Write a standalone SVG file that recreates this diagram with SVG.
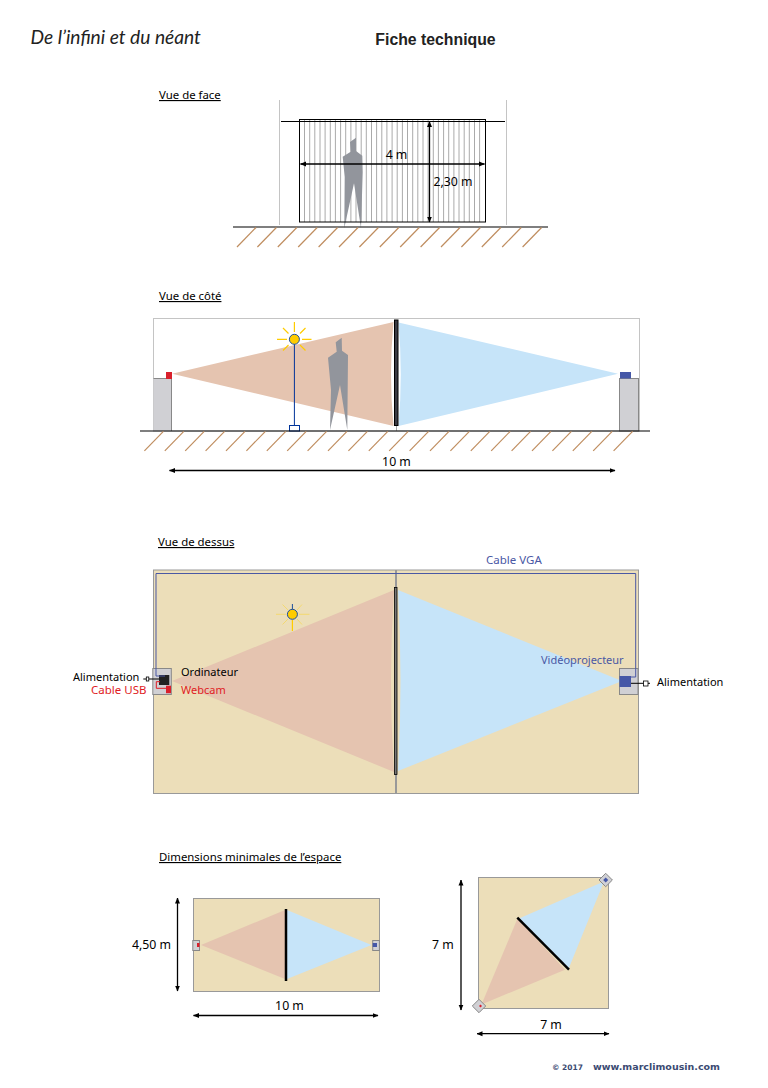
<svg xmlns="http://www.w3.org/2000/svg" xmlns:xlink="http://www.w3.org/1999/xlink" width="768" height="1088" viewBox="0 0 768 1088">
<style>
text{font-family:"Noto Sans","DejaVu Sans",sans-serif;font-size:11px;fill:#000}
.sec{font-size:11.4px;text-decoration:underline}
.d{font-size:12.3px}
.w{font-size:11.5px}
.mid{text-anchor:middle}
.dim{fill:none;stroke:#000;stroke-width:1.3;marker-start:url(#a);marker-end:url(#a)}
.ln{fill:none;stroke:#000;stroke-width:1}
.hatch{stroke:#bf8d5f;stroke-width:1.2;fill:none}
.grey{stroke:#c4c4c4;stroke-width:1;fill:none}
.peach{fill:#e5c4b0}
.blue{fill:#c6e4f9}
.floor{fill:#ecdeb9;stroke:#999;stroke-width:1}
.box{fill:#d0d0d4;stroke:#888;stroke-width:1}
.man{fill:#92959c}
.ray{stroke:#ffcc00;stroke-width:1.2;fill:none}
.ray2{stroke:#f5d860;stroke-width:.8;fill:none}
.bulb{fill:#ffcc00;stroke:#1d4f9c;stroke-width:1}
.vga{fill:none;stroke:#4a58a4;stroke-width:1}
.usb{fill:none;stroke:#e01b24;stroke-width:1}
.red{fill:#d9202c}
.prj{fill:#4557a7}
.bluet{fill:#4a58a4}
.redt{fill:#e01b24}
</style>
<defs>
<marker id="a" viewBox="0 0 6 6" refX="5.5" refY="3" markerWidth="6" markerHeight="6" markerUnits="userSpaceOnUse" orient="auto-start-reverse"><path d="M0,0.5L6,3L0,5.5Z" fill="#000"/></marker>
<path id="h" d="M0,19.5L19,0" class="hatch"/>
</defs>
<rect width="768" height="1088" fill="#fff"/>

<g id="header">
<text x="30.500" y="43.500" style="font-family:Lato,sans-serif;font-style:italic;font-size:19.2px;fill:#222">De l’infini et du néant</text>
<text x="435.500" y="45" class="mid" style="font-family:'Liberation Sans',sans-serif;font-weight:bold;font-size:15.800px;fill:#222">Fiche technique</text>
</g>

<g id="vue-face">
<text x="159" y="99" class="sec">Vue de face</text>
<path class="grey" d="M279.500,100V225M506.500,100V225"/>
<path stroke="#aaa" stroke-width="1" fill="none" d="M304.500,120V222M309.700,120V222M314.800,120V222M320,120V222M325.100,120V222M330.300,120V222M335.400,120V222M340.600,120V222M345.700,120V222M350.900,120V222M356,120V222M361.200,120V222M366.300,120V222M371.500,120V222M376.600,120V222M381.800,120V222M386.900,120V222M392.100,120V222M397.200,120V222M402.400,120V222M407.500,120V222M412.700,120V222M417.800,120V222M423,120V222M428.100,120V222M433.300,120V222M438.400,120V222M443.600,120V222M448.700,120V222M453.900,120V222M459,120V222M464.200,120V222M469.300,120V222M474.500,120V222M479.600,120V222"/>
<path class="man" d="M356,137.700L350,142L350.700,151.700L342.700,156.700L344.700,177L344.300,228L354,183.300L361,228L362.700,172L362.300,155.700L356,151Z"/>
<rect x="299.500" y="119.500" width="186" height="102.500" class="ln"/>
<path class="ln" d="M281,121.500H505"/>
<text x="396.500" y="159" class="mid d">4 m</text>
<text x="433.500" y="186" class="d">2,30 m</text>
</g>

<g id="sol-face">
<path d="M233,227H548" stroke="#000" stroke-width="1.2" fill="none"/>
<use xlink:href="#h" x="237" y="227.500"/><use xlink:href="#h" x="257.400" y="227.500"/><use xlink:href="#h" x="277.800" y="227.500"/><use xlink:href="#h" x="298.200" y="227.500"/><use xlink:href="#h" x="318.600" y="227.500"/><use xlink:href="#h" x="339" y="227.500"/><use xlink:href="#h" x="359.400" y="227.500"/><use xlink:href="#h" x="379.800" y="227.500"/><use xlink:href="#h" x="400.200" y="227.500"/><use xlink:href="#h" x="420.600" y="227.500"/><use xlink:href="#h" x="441" y="227.500"/><use xlink:href="#h" x="461.400" y="227.500"/><use xlink:href="#h" x="481.800" y="227.500"/><use xlink:href="#h" x="502.200" y="227.500"/><use xlink:href="#h" x="522.600" y="227.500"/>
</g>

<g id="vue-cote">
<text x="159" y="300" class="sec">Vue de côté</text>
<rect x="153.500" y="318.500" width="486" height="112.500" class="grey"/>
<path class="peach" d="M172,373.700L393.500,322Q388.500,374 393.500,426Z"/>
<path class="blue" d="M618,373.700L398.500,322.500Q403,374 398.500,426Z"/>
<path class="man" d="M341.700,337.700L335.700,342.300L336.700,351.700L328,357.700L331,390L330,430L340,385L347.300,430L348,355L342,350.700Z"/>
<path d="M396.500,425V431" stroke="#aaa" stroke-width="1"/>
<rect x="394.500" y="320" width="3.500" height="105.500" fill="#3a3a42" stroke="#000" stroke-width="1"/>
</g>

<g id="support-webcam-cote">
<path d="M153.500,431V378.500H171.500V431Z" fill="#d0d0d4"/>
<path d="M153.500,378.500H171.500V431" fill="none" stroke="#888" stroke-width="1"/>
<rect x="166" y="372" width="6" height="7" class="red"/>
</g>
<g id="support-projecteur-cote">
<rect x="619.500" y="378.500" width="19" height="52.500" class="box"/>
<rect x="620" y="372" width="11" height="6.500" class="prj"/>
</g>
<g id="lampe-cote">
<path class="ray" d="M277,339.300H287M302,339.300H311.500M294.400,322V332M283,328L288.500,333.500M305.500,328L300,333.500M283,350.500L288.500,345M305.500,350.500L300,345"/>
<path d="M294.400,339V425" stroke="#003399" stroke-width="1" fill="none"/>
<rect x="289.500" y="425.500" width="10" height="5.500" fill="#fff" stroke="#003399" stroke-width="1"/>
<circle cx="294.400" cy="339.300" r="5" class="bulb"/>
</g>

<g id="sol-cote">
<path d="M140,431H650" stroke="#000" stroke-width="1.2" fill="none"/>
<use xlink:href="#h" x="144.400" y="431.300"/><use xlink:href="#h" x="164.800" y="431.300"/><use xlink:href="#h" x="185.200" y="431.300"/><use xlink:href="#h" x="205.600" y="431.300"/><use xlink:href="#h" x="226" y="431.300"/><use xlink:href="#h" x="246.400" y="431.300"/><use xlink:href="#h" x="266.800" y="431.300"/><use xlink:href="#h" x="287.200" y="431.300"/><use xlink:href="#h" x="307.600" y="431.300"/><use xlink:href="#h" x="328" y="431.300"/><use xlink:href="#h" x="348.400" y="431.300"/><use xlink:href="#h" x="368.800" y="431.300"/><use xlink:href="#h" x="389.200" y="431.300"/><use xlink:href="#h" x="409.600" y="431.300"/><use xlink:href="#h" x="430" y="431.300"/><use xlink:href="#h" x="450.400" y="431.300"/><use xlink:href="#h" x="470.800" y="431.300"/><use xlink:href="#h" x="491.200" y="431.300"/><use xlink:href="#h" x="511.600" y="431.300"/><use xlink:href="#h" x="532" y="431.300"/><use xlink:href="#h" x="552.400" y="431.300"/><use xlink:href="#h" x="572.800" y="431.300"/><use xlink:href="#h" x="593.200" y="431.300"/><use xlink:href="#h" x="613.600" y="431.300"/>
<text x="396.500" y="466" class="mid d">10 m</text>
</g>

<g id="vue-dessus">
<text x="158" y="546" class="sec">Vue de dessus</text>
<rect x="153.500" y="570" width="485" height="223.500" class="floor"/>
<path class="peach" d="M172,681L394,590Q388,681 394,772Z"/>
<path class="blue" d="M622,681L398,590Q403,681 398,771Z"/>
<path d="M396,570V793.500" stroke="#999" stroke-width="2" fill="none"/>
<rect x="394.500" y="587.500" width="2.500" height="187" fill="#777" stroke="#000" stroke-width=".8"/>
<text x="486" y="564" class="bluet w">Cable VGA</text>
</g>

<g id="ordinateur">
<rect x="152.800" y="668.500" width="18.500" height="26" class="box"/>
<rect x="159" y="675" width="10.300" height="10" fill="#222"/>
<text x="181" y="676">Ordinateur</text>
</g>
<g id="webcam">
<rect x="166" y="685.700" width="5" height="7.500" class="red"/>
<text x="181" y="694" class="redt">Webcam</text>
</g>
<g id="videoprojecteur">
<rect x="619.500" y="668.500" width="18.500" height="26" class="box"/>
<rect x="619.500" y="676" width="11.500" height="11" class="prj"/>
<text x="541" y="664" class="bluet">Vidéoprojecteur</text>
</g>
<g id="alimentation-gauche">
<rect x="146.300" y="677" width="2.500" height="4" fill="#fff" stroke="#000" stroke-width=".8"/>
<text x="73" y="681">Alimentation</text>
</g>
<g id="alimentation-droite">
<rect x="643.500" y="681" width="4.500" height="5" fill="#fff" stroke="#000" stroke-width=".8"/>
<text x="657" y="686">Alimentation</text>
</g>
<g id="cable-usb-label"><text x="91" y="694" class="redt w">Cable USB</text></g>
<g id="lampe-dessus">
<path class="ray2" d="M276,614.300H286M299,614.300H309.500M282.500,604.500L288,610M302,604.500L297,610M282.500,624.500L288,619M302,624.500L297,619"/>
<path class="ray" d="M292.400,620V631"/>
<path d="M292.400,604V610" stroke="#1d4f9c" stroke-width="1" fill="none"/>
<circle cx="292.400" cy="614.300" r="5" class="bulb"/>
</g>

<g id="plan-rectangle">
<text x="159" y="861" class="sec">Dimensions minimales de l’espace</text>
<rect x="193.500" y="898.500" width="186" height="93" class="floor"/>
<path class="peach" d="M201,945L285,910V979Z"/>
<path class="blue" d="M371.500,945L287,910V979Z"/>
<path d="M286,909V981" stroke="#000" stroke-width="2.500" fill="none"/>
<rect x="192.800" y="940.500" width="6.700" height="10" class="box"/>
<rect x="197" y="943" width="2.500" height="4" class="red"/>
<rect x="372.700" y="940.500" width="6.700" height="10" class="box"/>
<rect x="372.700" y="943" width="4.300" height="4" class="prj"/>
<text x="132" y="949" class="d">4,50 m</text>
<text x="289.500" y="1010" class="mid d">10 m</text>
</g>

<g id="plan-carre">
<rect x="478.500" y="877.500" width="130" height="131" class="floor"/>
<path class="blue" d="M604,881.500L519,918.500L568.500,969Z"/>
<path class="peach" d="M481.500,1004.500L517.500,918.500L565,969.700Z"/>
<path d="M517.300,917.700L569,969.700" stroke="#000" stroke-width="2.500" fill="none"/>
<path class="box" d="M605.700,873.300L612.400,880L605.700,886.700L599,880Z"/>
<path class="prj" d="M605.700,877.500L608.200,880L605.700,882.500L603.200,880Z"/>
<path class="box" d="M479,999.300L485.700,1006L479,1012.700L472.300,1006Z"/>
<path class="red" d="M480.500,1004.500L482,1006L480.500,1007.500L479,1006Z"/>
<text x="432" y="949" class="d">7 m</text>
<text x="551" y="1029" class="mid d">7 m</text>
</g>

<g id="footer">
<text x="552" y="1070" style="font-family:'DejaVu Sans',sans-serif;font-weight:bold;font-size:7.500px;fill:#3b4a72">© 2017</text>
<text x="593" y="1070" style="font-family:'DejaVu Sans',sans-serif;font-weight:bold;font-size:9.500px;fill:#3b4a72">www.marclimousin.com</text>
</g>

<g id="connectors">
<path class="dim" d="M300.500,164H484.500"/>
<path class="dim" d="M429.500,121.500V222"/>
<path class="dim" d="M169.500,470.500H615"/>
<path class="dim" d="M177.500,898V991"/>
<path class="dim" d="M193.500,1015.500H378"/>
<path class="dim" d="M461,880V1010"/>
<path class="dim" d="M477,1033.700H609"/>
<path class="vga" d="M165,676H156V573.500H635.700V677H628"/>
<path class="usb" d="M160,681.700H156.300V688.300H166"/>
<path class="ln" d="M143.300,679H146.300M148.800,679H159"/>
<path class="ln" d="M631,683.300H643.500M648,683.300H650"/>
</g>
</svg>
